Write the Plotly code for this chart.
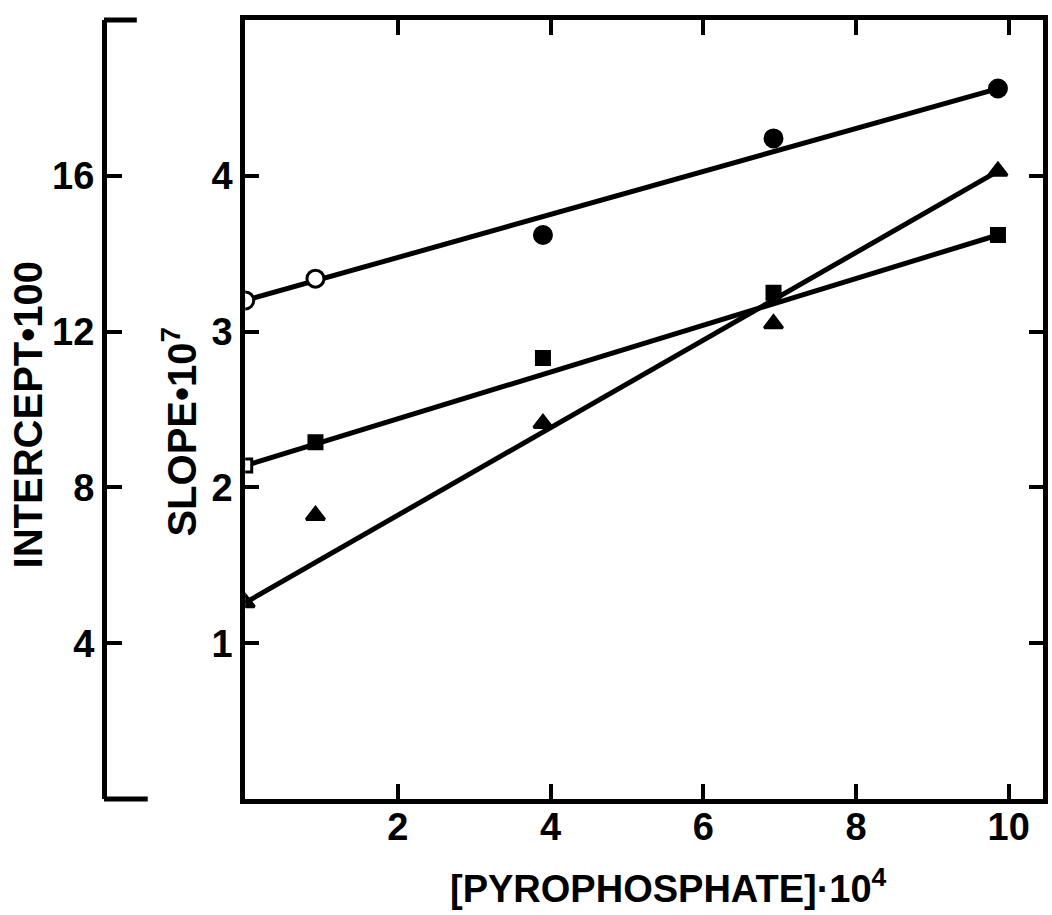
import plotly.graph_objects as go

# Pyrophosphate concentration (x 10^4) at which each series was measured
conc = [0, 0.92, 3.9, 6.92, 9.86]

# Slope x 10^7 values (intercept x 100 shares the same vertical scale, 4:1)
circle_vals = [3.20, 3.34, 3.62, 4.24, 4.56]
square_vals = [2.14, 2.29, 2.83, 3.25, 3.62]
triangle_vals = [1.26, 1.82, 2.41, 3.05, 4.03]

# Fitted straight lines: end points
fit_x = [0, 9.86]
circle_fit = [3.20, 4.56]
square_fit = [2.14, 3.62]
triangle_fit = [1.26, 4.03]

# Open symbol for the extrapolated / first points, filled otherwise
circle_fill = ["white", "white", "black", "black", "black"]
square_fill = ["white", "black", "black", "black", "black"]
triangle_fill = ["black", "black", "black", "black", "black"]

x_ticks = [2, 4, 6, 8, 10]
slope_ticks = [1, 2, 3, 4]
intercept_ticks = [4, 8, 12, 16]

FONT = "Liberation Sans"
INK = "black"

# Figure geometry (pixels)
W, H = 1052, 915
ML, MR, MT, MB = 100, 4, 20, 116
PW, PH = W - ML - MR, H - MT - MB


def px_x(p):
    return (p - ML) / PW


def px_y(p):
    return (H - MB - p) / PH


fig = go.Figure()

for fy in (circle_fit, square_fit, triangle_fit):
    fig.add_trace(go.Scatter(
        x=fit_x, y=fy, mode="lines",
        line=dict(color=INK, width=5), showlegend=False, hoverinfo="skip",
    ))

for vals, sym, fill, size in (
    (circle_vals, "circle", circle_fill, 17),
    (square_vals, "square", square_fill, 13),
    (triangle_vals, "triangle-up", triangle_fill, 16),
):
    fig.add_trace(go.Scatter(
        x=conc, y=vals, mode="markers",
        marker=dict(symbol=sym, size=size, color=fill,
                    line=dict(color=INK, width=3)),
        showlegend=False,
    ))

# Circle series expressed on the intercept scale (invisible; keeps the
# second vertical axis drawn)
fig.add_trace(go.Scatter(
    x=conc, y=[4 * v for v in circle_vals], yaxis="y2", mode="markers",
    marker=dict(opacity=0), showlegend=False, hoverinfo="skip",
))

tick_font = dict(family=FONT, size=38, color=INK, weight="bold")
title_font = dict(family=FONT, size=40, color=INK, weight="bold")

fig.update_layout(
    width=W, height=H,
    margin=dict(l=ML, r=MR, t=MT, b=MB),
    paper_bgcolor="white", plot_bgcolor="white",
    font=dict(family=FONT, color=INK),
    xaxis=dict(
        domain=[px_x(246), 1], range=[0, 10.45],
        tickvals=x_ticks, ticktext=[str(v) for v in x_ticks],
        ticks="inside", ticklen=15, tickwidth=4, tickcolor=INK,
        showline=True, linewidth=5, linecolor=INK, mirror="ticks",
        showgrid=False, zeroline=False,
        tickfont=tick_font, ticklabelstandoff=-10,
    ),
    yaxis=dict(
        range=[0, 5],
        tickvals=slope_ticks, ticktext=[str(v) for v in slope_ticks],
        ticks="inside", ticklen=14, tickwidth=4, tickcolor=INK,
        showline=True, linewidth=5, linecolor=INK, mirror="ticks",
        showgrid=False, zeroline=False,
        tickfont=tick_font,
    ),
    yaxis2=dict(
        range=[0, 20], overlaying="y", anchor="free", position=px_x(104), side="left",
        tickvals=intercept_ticks, ticktext=[str(v) for v in intercept_ticks],
        ticks="inside", ticklen=15, tickwidth=4, tickcolor=INK,
        showline=True, linewidth=5, linecolor=INK,
        showgrid=False, zeroline=False,
        tickfont=tick_font,
    ),
)

# Axis titles
fig.add_annotation(text="[PYROPHOSPHATE]·10<sup>4</sup>", xref="paper", yref="paper",
                   x=px_x(672), y=px_y(886), xanchor="center", yanchor="middle",
                   showarrow=False, font=dict(family=FONT, size=38, color=INK, weight="bold"))
fig.add_annotation(text="SLOPE•10<sup>7</sup>", xref="paper", yref="paper",
                   x=px_x(180), y=px_y(432), xanchor="center", yanchor="middle",
                   textangle=-90, showarrow=False, font=title_font)
fig.add_annotation(text="INTERCEPT•100", xref="paper", yref="paper",
                   x=px_x(28), y=px_y(415), xanchor="center", yanchor="middle",
                   textangle=-90, showarrow=False, font=title_font)

# End caps of the intercept axis bracket
fig.add_shape(type="line", xref="paper", yref="paper",
              x0=px_x(104), x1=px_x(137), y0=1, y1=1, line=dict(color=INK, width=5))
fig.add_shape(type="line", xref="paper", yref="paper",
              x0=px_x(104), x1=px_x(148), y0=0, y1=0, line=dict(color=INK, width=5))

fig.write_html("out.html")
